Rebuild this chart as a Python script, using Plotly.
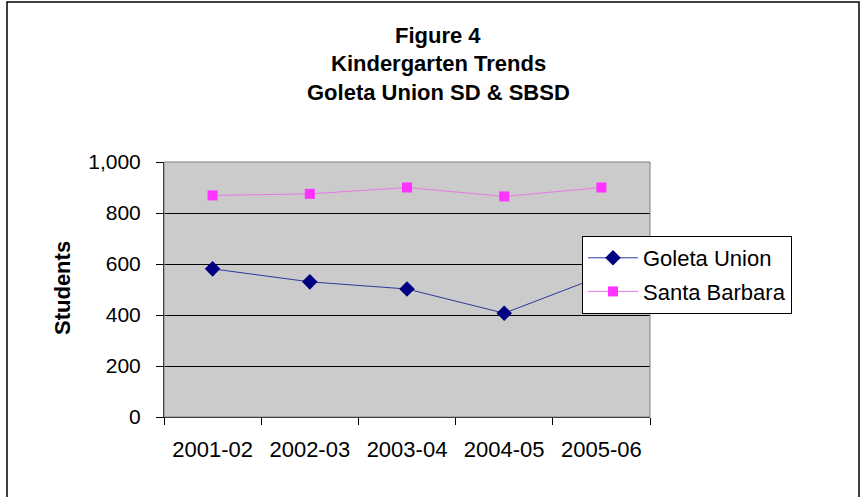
import plotly.graph_objects as go

years = ["2001-02", "2002-03", "2003-04", "2004-05", "2005-06"]
goleta = [581, 530, 502, 407, 553]
santa_barbara = [869, 875, 900, 865, 900]

title_lines = ["Figure 4", "Kindergarten Trends", "Goleta Union SD & SBSD"]

W, H = 862, 497
L, R, T, B = 164, 212, 162, 80
pw, ph = W - L - R, H - T - B

def px_x(x):
    return (x - L) / pw

def px_y(y):
    return (H - B - y) / ph

FONT = "Arial, Liberation Sans, sans-serif"

fig = go.Figure()
fig.add_trace(go.Scatter(
    x=years, y=goleta, name="Goleta Union", mode="lines+markers",
    legendgroup="g1",
    line=dict(color="#2a3a9c", width=1),
    marker=dict(symbol="diamond", size=12, color="#000080"),
))
fig.add_trace(go.Scatter(
    x=years, y=santa_barbara, name="Santa Barbara", mode="lines+markers",
    legendgroup="g2",
    line=dict(color="#e67ae6", width=1),
    marker=dict(symbol="square", size=10, color="#ff33ff"),
))

annotations = []
for line, yc in zip(title_lines, [35, 63, 92]):
    annotations.append(dict(
        text="<b>%s</b>" % line, x=px_x(438), y=px_y(yc), xref="paper", yref="paper",
        xanchor="center", yanchor="middle", showarrow=False,
        font=dict(family=FONT, size=22, color="black"),
    ))
annotations.append(dict(
    text="<b>Students</b>", x=px_x(62), y=px_y(288), xref="paper", yref="paper",
    xanchor="center", yanchor="middle", showarrow=False, textangle=-90,
    font=dict(family=FONT, size=22, color="black"),
))

shapes = [
    dict(type="rect", xref="paper", yref="paper", x0=0, x1=1, y0=0, y1=1,
         line=dict(color="#808080", width=1), layer="above"),
    dict(type="rect", xref="paper", yref="paper",
         x0=px_x(7), x1=px_x(859), y0=px_y(510), y1=px_y(2),
         line=dict(color="black", width=1.5), layer="above"),
]

fig.update_layout(
    width=W, height=H,
    margin=dict(l=L, r=R, t=T, b=B),
    paper_bgcolor="white",
    plot_bgcolor="#cbcbcb",
    font=dict(family=FONT, size=21, color="black"),
    showlegend=True,
    legend=dict(
        x=px_x(582), y=px_y(236), xanchor="left", yanchor="top",
        bgcolor="white", bordercolor="black", borderwidth=1,
        font=dict(family=FONT, size=22, color="black"),
        tracegroupgap=2, itemwidth=50,
    ),
    annotations=annotations,
    shapes=shapes,
    xaxis=dict(
        type="category", tickson="boundaries", ticks="outside", ticklen=7,
        tickcolor="black", showline=True, linecolor="black", linewidth=1,
        showgrid=False, range=[-0.5, 4.5], tickfont=dict(size=22),
        ticklabelstandoff=13,
    ),
    yaxis=dict(
        range=[0, 1000], dtick=200, tickformat=",", ticks="outside", ticklen=7,
        tickcolor="black", showline=True, linecolor="black", linewidth=1,
        showgrid=True, gridcolor="black", gridwidth=1, zeroline=False,
        tickfont=dict(size=21), ticklabelstandoff=11,
    ),
)

fig.write_html("out.html", config={"displayModeBar": False},
               post_script="document.body.style.margin='0';document.body.style.padding='0';")
